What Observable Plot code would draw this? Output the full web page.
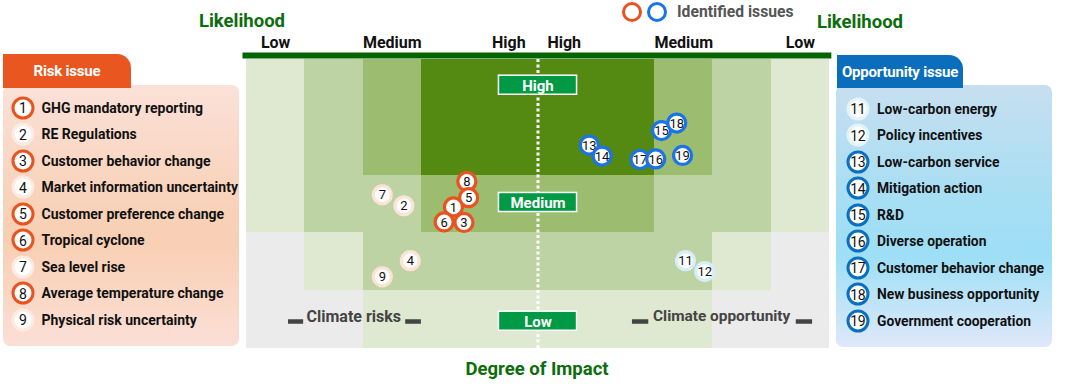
<!DOCTYPE html>
<html><head><meta charset="utf-8">
<script src="https://cdn.jsdelivr.net/npm/d3@7"></script>
<script src="https://cdn.jsdelivr.net/npm/@observablehq/plot@0.6"></script>
<style>
body{margin:0;background:#fff;font-family:Roboto,"Noto Sans",sans-serif;}
#wrap{position:relative;width:1066px;height:389px;overflow:hidden;}
#wrap svg{position:absolute;left:0;top:0;}
.abs{position:absolute;white-space:nowrap;line-height:1;}
.ttl{font-weight:700;font-size:18.5px;color:#0b6d0b;transform:translate(-50%,-50%);}
.panel{position:absolute;border-radius:7px;}
.tab{position:absolute;color:#fff;font-weight:700;font-size:15px;display:flex;align-items:center;justify-content:center;border-top-right-radius:14px;letter-spacing:-0.2px;}
.item{position:absolute;font-weight:700;font-size:14px;color:#111;transform:translateY(-50%);white-space:nowrap;}
.circ{position:absolute;width:23px;height:23px;box-sizing:border-box;border-radius:50%;border:3.2px solid;background:#fff;font-size:14px;color:#111;display:flex;align-items:center;justify-content:center;transform:translate(-50%,-50%);letter-spacing:-0.5px;}
</style></head><body><div id="wrap"></div>
<script>
// ---- data ----
const riskIds = [1,2,3,4,5,6,7,8,9];
const riskNames = ["GHG mandatory reporting","RE Regulations","Customer behavior change","Market information uncertainty","Customer preference change","Tropical cyclone","Sea level rise","Average temperature change","Physical risk uncertainty"];
const riskImpact = [3.55,2.70,3.73,2.81,3.81,3.39,2.33,3.78,2.33];
const riskLikelihood = [2.45,2.47,2.18,1.52,2.61,2.19,2.66,2.89,1.24];
const riskIdentified = [true,false,true,false,true,true,false,true,false];

const oppIds = [11,12,13,14,15,16,17,18,19];
const oppNames = ["Low-carbon energy","Policy incentives","Low-carbon service","Mitigation action","R&D","Diverse operation","Customer behavior change","New business opportunity","Government cooperation"];
const oppImpact = [7.53,7.86,5.88,6.10,7.12,7.02,6.75,7.38,7.48];
const oppLikelihood = [1.52,1.33,3.52,3.33,3.77,3.28,3.27,3.90,3.34];
const oppIdentified = [false,false,true,true,true,true,true,true,true];

const impactLabels = ["Low","Medium","High","High","Medium","Low"];
const impactLabelPos = [0.5,2.5,4.5,5.45,7.5,9.5];

// zone level per cell: rows top (likelihood 5) to bottom, columns impact 0..10
const zoneLevels = [
  [1,2,3,4,4,4,4,3,2,1],
  [1,2,3,4,4,4,4,3,2,1],
  [1,2,2,3,3,3,3,2,2,1],
  [0,1,2,2,2,2,2,2,1,0],
  [0,0,1,1,1,1,1,1,0,0]
];
const zonePalette = ["#ebebeb","#dfe8d0","#bdd3a3","#9cbc6f","#558a12"];

const bandLabels = ["High","Medium","Low"];
const bandCenters = [4.555,2.526,0.472];

const sideLabels = ["Climate risks","Climate opportunity"];
const sideLabelPos = [1.84,8.15];
const sideLabelSize = [16,15.4];
const sideBars = [[0.72,0.98],[2.73,3.0],[6.62,6.9],[9.43,9.71]];

const drawOrder = [9,4,7,2,8,5,1,6,3,11,12,13,14,15,18,17,16,19];

// ---- colours ----
const RISK = "#e8531f", OPP = "#1a73e8", RISK_LIGHT = "#fde3d3", OPP_LIGHT = "#d6eefa";

const points = [
  ...riskIds.map((id,i)=>({id, impact:riskImpact[i], likelihood:riskLikelihood[i], kind:"risk", identified:riskIdentified[i]})),
  ...oppIds.map((id,i)=>({id, impact:oppImpact[i], likelihood:oppLikelihood[i], kind:"opp", identified:oppIdentified[i]}))
];
const strokeFor = p => p.kind==="risk" ? (p.identified?RISK:RISK_LIGHT) : (p.identified?OPP:OPP_LIGHT);

const cells = [];
zoneLevels.forEach((row,r)=>row.forEach((lv,c)=>cells.push({x1:c,x2:c+1,y1:4-r,y2:5-r,level:lv})));

const pointMarks = drawOrder.map(id=>points.find(p=>p.id===id)).flatMap(p=>[
  Plot.dot([p],{x:"impact",y:"likelihood",r:9,fill:"white",stroke:strokeFor(p),strokeWidth:3.2}),
  Plot.text([p],{x:"impact",y:"likelihood",text:d=>String(d.id),fontSize:13,fill:"#111",dy:0.5})
]);

const chart = Plot.plot({
  width:1066, height:389,
  marginLeft:246, marginRight:237, marginTop:59, marginBottom:41,
  x:{domain:[0,10], axis:null},
  y:{domain:[0,5], axis:null},
  color:{type:"identity"},
  style:{fontFamily:"Roboto, 'Noto Sans', sans-serif", background:"transparent", overflow:"visible"},
  marks:[
    Plot.rect(cells,{x1:"x1",x2:"x2",y1:"y1",y2:"y2",fill:d=>zonePalette[d.level],shapeRendering:"crispEdges"}),
    Plot.ruleY([5],{x1:-0.06,x2:10.04,stroke:"#006400",strokeWidth:6,dy:-4}),
    Plot.ruleX([5],{y1:0,y2:5,stroke:"white",strokeWidth:3,strokeDasharray:"3 2.5"}),
    Plot.text(impactLabels,{x:(d,i)=>impactLabelPos[i],y:5,dy:-17,text:d=>d,fontSize:16,fontWeight:700,fill:"#111"}),
    Plot.rect(bandLabels,{x1:4.33,x2:5.67,y1:(d,i)=>bandCenters[i]-0.165,y2:(d,i)=>bandCenters[i]+0.165,fill:"#009a44",stroke:"white",strokeWidth:1.5}),
    Plot.text(bandLabels,{x:5,y:(d,i)=>bandCenters[i],text:d=>d,fill:"white",fontSize:15,fontWeight:700,dy:0.5}),
    Plot.text([sideLabels[0]],{x:sideLabelPos[0],y:0.554,text:d=>d,fill:"#444",fontSize:sideLabelSize[0],fontWeight:700}),
    Plot.text([sideLabels[1]],{x:sideLabelPos[1],y:0.554,text:d=>d,fill:"#444",fontSize:sideLabelSize[1],fontWeight:700}),
    Plot.ruleY(sideBars,{x1:d=>d[0],x2:d=>d[1],y:0.467,stroke:"#444",strokeWidth:4.5}),
    ...pointMarks
  ]
});

const wrap = document.getElementById("wrap");
wrap.appendChild(chart);

function add(html){ wrap.insertAdjacentHTML("beforeend", html); }

// titles
add(`<div class="abs ttl" style="left:242px;top:21px;">Likelihood</div>`);
add(`<div class="abs ttl" style="left:860px;top:22px;">Likelihood</div>`);
add(`<div class="abs ttl" style="left:537px;top:369px;">Degree of Impact</div>`);
// legend
add(`<div class="circ" style="left:632px;top:12px;width:20px;height:20px;border-color:${RISK};"></div>`);
add(`<div class="circ" style="left:657px;top:12px;width:20px;height:20px;border-color:${OPP};"></div>`);
add(`<div class="abs" style="left:677px;top:12px;transform:translateY(-50%);font-weight:700;font-size:15.7px;color:#555;">Identified issues</div>`);

// risk panel
add(`<div class="panel" style="left:3px;top:85px;width:236px;height:261px;background:linear-gradient(180deg,#fbe1d8 0%,#f8d2b9 45%,#f8cfb3 60%,#fbdfd6 100%);"></div>`);
add(`<div class="tab" style="left:3px;top:54px;width:128px;height:34px;background:#e9561f;">Risk issue</div>`);
riskIds.forEach((id,i)=>{
  const y = 107.5 + i*26.5;
  add(`<div class="circ" style="left:22.7px;top:${y}px;border-color:${riskIdentified[i]?RISK:"#fdebe2"};">${id}</div>`);
  add(`<div class="item" style="left:41.5px;top:${y}px;">${riskNames[i]}</div>`);
});
// opportunity panel
add(`<div class="panel" style="left:836px;top:85px;width:216px;height:262px;background:linear-gradient(180deg,#c7dff0 0%,#a9def3 40%,#9ddff6 65%,#dfe8fa 100%);"></div>`);
add(`<div class="tab" style="left:837px;top:55px;width:126px;height:33px;background:#0a6ebd;">Opportunity issue</div>`);
oppIds.forEach((id,i)=>{
  const y = 108.5 + i*26.5;
  add(`<div class="circ" style="left:857.7px;top:${y}px;border-color:${oppIdentified[i]?"#0b6fc0":"#e4f4fb"};">${id}</div>`);
  add(`<div class="item" style="left:877px;top:${y}px;font-size:13.85px;">${oppNames[i].replace("&","&amp;")}</div>`);
});
</script></body></html>
